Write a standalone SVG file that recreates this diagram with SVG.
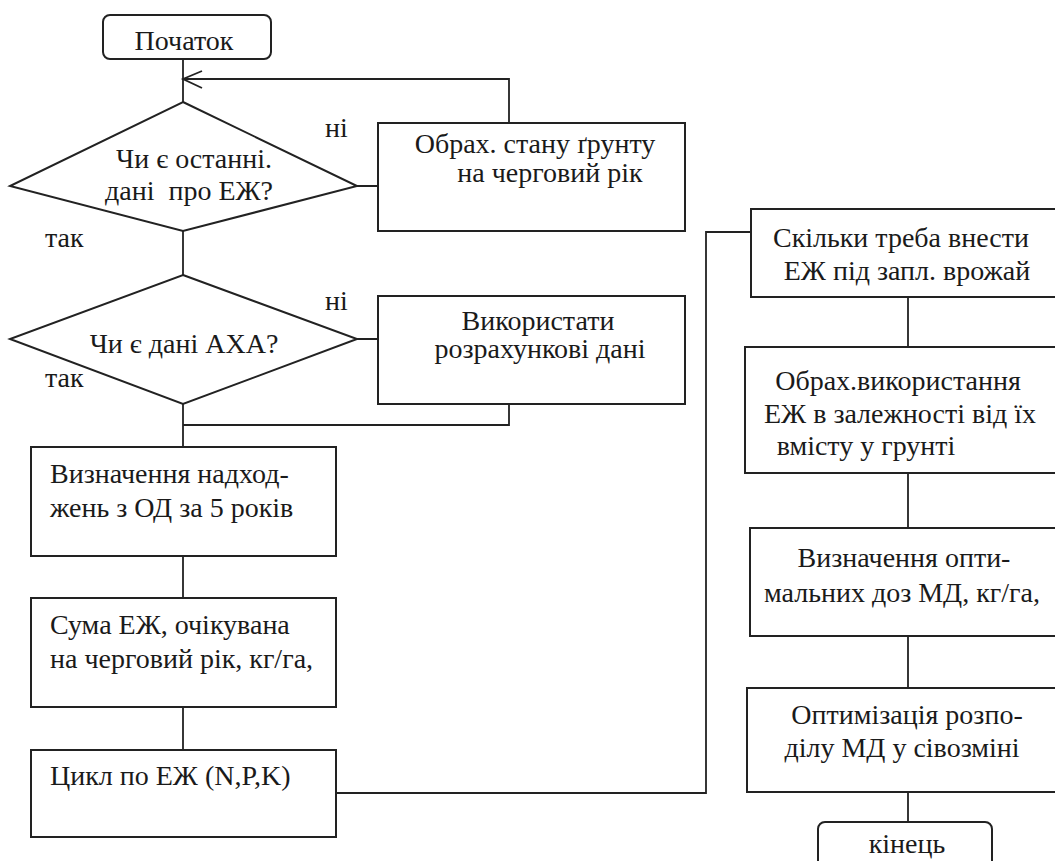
<svg xmlns="http://www.w3.org/2000/svg" width="1055" height="861" viewBox="0 0 1055 861" font-family="'Liberation Serif', 'DejaVu Serif', serif">
<style>
.b{fill:#fff;stroke:#222;stroke-width:2}
.c{fill:none;stroke:#222;stroke-width:1.8}
text{font-family:'Liberation Serif','Tinos','DejaVu Serif','Noto Serif',serif;font-size:28px;fill:#1a1a1a}
.m{text-anchor:middle}
</style>
<rect width="1055" height="861" fill="#fff"/>
<g id="connectors">
<path class="c" d="M183 59V102M183 231V275M183 404V447M183 556V598M183 707V750"/>
<path class="c" d="M357 186H378M357 339H378"/>
<path class="c" d="M509 123V79H183M202 71L183 79L202 88"/>
<path class="c" d="M509 404V425H183"/>
<path class="c" d="M336 793H706V232H751"/>
<path class="c" d="M908 297V347M908 473V528M908 636V688M908 792V822"/>
</g>
<g id="start"><rect class="b" x="103" y="15" width="168" height="44" rx="7"/><text class="m" x="184" y="50">Початок</text></g>
<g id="d1"><polygon class="b" points="183,102 357,186 183,231 10,186"/><text class="m" x="194" y="168">Чи є останні.</text><text class="m" x="189" y="200" xml:space="preserve">дані  про ЕЖ?</text></g>
<g id="lbl"><text x="325" y="137">ні</text><text x="45" y="247">так</text><text x="325" y="310">ні</text><text x="45" y="387">так</text></g>
<g id="b1"><rect class="b" x="378" y="123" width="307" height="108"/><text class="m" x="535" y="153">Обрах. стану ґрунту</text><text class="m" x="550" y="182">на черговий рік</text></g>
<g id="d2"><polygon class="b" points="183,275 357,339 183,404 10,339"/><text class="m" x="184" y="353">Чи є дані АХА?</text></g>
<g id="b2"><rect class="b" x="378" y="296" width="307" height="108"/><text class="m" x="538" y="330">Використати</text><text class="m" x="540" y="358">розрахункові дані</text></g>
<g id="b3"><rect class="b" x="31" y="447" width="305" height="109"/><text x="50" y="483">Визначення надход-</text><text x="50" y="517">жень з ОД за 5 років</text></g>
<g id="b4"><rect class="b" x="31" y="598" width="305" height="109"/><text x="50" y="634">Сума ЕЖ, очікувана</text><text x="50" y="668">на черговий рік, кг/га,</text></g>
<g id="b5"><rect class="b" x="31" y="750" width="305" height="87"/><text x="50" y="785">Цикл по ЕЖ (N,P,K)</text></g>
<g id="r1"><rect class="b" x="751" y="209" width="310" height="88"/><text class="m" x="901" y="247">Скільки треба внести</text><text class="m" x="907" y="280">ЕЖ під запл. врожай</text></g>
<g id="r2"><rect class="b" x="745" y="347" width="316" height="126"/><text class="m" x="898" y="390">Обрах.використання</text><text class="m" x="900" y="423">ЕЖ в залежності від їх</text><text class="m" x="866" y="455">вмісту у грунті</text></g>
<g id="r3"><rect class="b" x="750" y="528" width="311" height="108"/><text class="m" x="904" y="567">Визначення опти-</text><text class="m" x="902" y="602">мальних доз МД, кг/га,</text></g>
<g id="r4"><rect class="b" x="747" y="688" width="314" height="104"/><text class="m" x="907" y="724">Оптимізація розпо-</text><text class="m" x="902" y="757">ділу МД у сівозміні</text></g>
<g id="end"><rect class="b" x="818" y="822" width="174" height="60" rx="7"/><text class="m" x="907" y="853">кінець</text></g>
</svg>
